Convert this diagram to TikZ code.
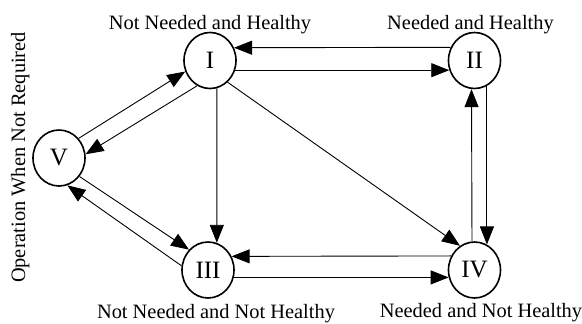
\documentclass[tikz,border=0pt]{standalone}
\usepackage{fontspec}
\setmainfont{Liberation Serif}
\usetikzlibrary{arrows.meta,shapes.geometric}
\begin{document}
\begin{tikzpicture}[x=1pt,y=-1pt,
  state/.style={ellipse,draw,line width=1.6pt,minimum width=52pt,minimum height=56pt,inner sep=0pt,font=\fontsize{25}{25}\selectfont},
  lbl/.style={font=\fontsize{20.4}{22}\selectfont,anchor=base,inner sep=0pt},
  tr/.style={line width=0.9pt,-{Triangle[length=18pt,width=14pt]}}]
\useasboundingbox (0,0) rectangle (582,324);
% states
\node[state] (I)   at (210,60.5)  {I};
\node[state] (II)  at (474.5,60.5) {II};
\node[state] (V)   at (59,158)    {V};
\node[state] (III) at (208,270)   {III};
\node[state] (IV)  at (474.5,270) {IV};
% labels
\node[lbl] (lI)   at (210,29)    {Not Needed and Healthy};
\node[lbl] (lII)  at (470.5,29)  {Needed and Healthy};
\node[lbl] (lIII) at (216,318.5) {Not Needed and Not Healthy};
\node[lbl] (lIV)  at (481,317)   {Needed and Not Healthy};
\node[lbl,rotate=90] (lV) at (25,157.5) {Operation When Not Required};
% transitions
\draw[tr] (II.151.8) -- (I.28.2);
\draw[tr] (I.-21.2) -- (II.201.2);
\draw[tr] (IV.95.7) -- (II.264.3);
\draw[tr] (II.-64.2) -- (IV.64.2);
\draw[tr] (IV.149.3) -- (III.30.7);
\draw[tr] (III.-16.2) -- (IV.196.2);
\draw[tr] (I.-76.9) -- (III.72.6);
\draw[tr] (I.-51) -- (IV.121);
\draw[tr] (V.45) -- (I.204.1);
\draw[tr] (I.243.6) -- (V.8.4);
\draw[tr] (V.-42.6) -- (III.133.6);
\draw[tr] (III.171.4) -- (V.287.1);
\end{tikzpicture}
\end{document}
